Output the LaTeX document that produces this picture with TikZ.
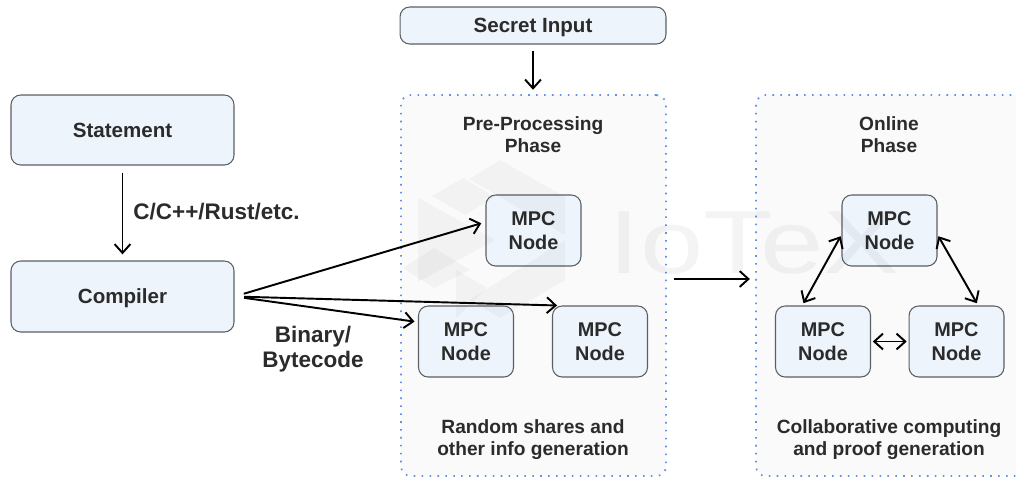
\documentclass[tikz,border=0pt]{standalone}
\usepackage{fontspec}
\setmainfont{Liberation Sans}
\usetikzlibrary{arrows.meta}
\definecolor{boxfill}{HTML}{EEF4FB}
\definecolor{boxline}{HTML}{5A5F63}
\definecolor{txt}{HTML}{2B2B2B}
\definecolor{phasefill}{HTML}{FAFAFA}
\definecolor{phaseline}{HTML}{5F92EA}
\tikzset{
	box/.style={draw=boxline,fill=boxfill,rounded corners=5.5pt,line width=0.6pt,inner sep=0pt,
		text=txt,font=\fontsize{11.7}{13}\selectfont\bfseries,align=center,text depth=0pt},
	mpc/.style={box,minimum width=1.9cm,minimum height=1.42cm,font=\fontsize{11.3}{13.6}\selectfont\bfseries},
	phase/.style={draw=phaseline,fill=phasefill,rounded corners=5.5pt,line width=1pt,inner sep=0pt,
		dash pattern=on 0.9pt off 3.6pt},
	lbl/.style={text=txt,font=\fontsize{10.9}{12.5}\selectfont\bfseries,align=center,inner sep=0pt},
	biglbl/.style={lbl,font=\fontsize{12.8}{14}\selectfont\bfseries},
	link/.style={>={Straight Barb[length=5pt,width=9pt]},line width=1.1pt,black},
	faint/.style={fill=black,fill opacity=0.03,draw=none},
	fainttext/.style={text=black,text opacity=0.045,xscale=1.27,inner sep=0pt,font=\fontsize{51}{51}\selectfont}
}
\begin{document}
\begin{tikzpicture}[x=0.02cm,y=-0.02cm]
\useasboundingbox (0,0) rectangle (1016,478);
%phases
\path (533.5,285.5) node[phase,minimum width=5.3cm,minimum height=7.62cm] (pre) {};
\path (928,285.5) node[phase,minimum width=6.88cm,minimum height=7.62cm] (online) {};
\path (533,134.5) node[lbl] (pretitle) {Pre-Processing\\Phase};
\path (889,134.5) node[lbl] (onlinetitle) {Online\\Phase};
\path (533,439.5) node[lbl] (pretext) {Random shares and\\other info generation};
\path (889,439.5) node[lbl] (onlinetext) {Collaborative computing\\and proof generation};
%left column
\path (122.5,130) node[box,minimum width=4.46cm,minimum height=1.4cm] (statement) {Statement};
\path (122.5,296.5) node[box,minimum width=4.46cm,minimum height=1.42cm] (compiler) {Compiler};
\path (216.5,212) node[biglbl] (lang) {C/C++/Rust/etc.};
\path (313,349) node[biglbl] (binary) {Binary/\\Bytecode};
%secret input
\path (533,25.5) node[box,minimum width=5.32cm,minimum height=0.74cm] (secret) {Secret Input};
%mpc nodes, pre-processing
\path (533.5,230.5) node[mpc] (m1) {MPC\\Node};
\path (466,341.5) node[mpc] (m2) {MPC\\Node};
\path (600,341.5) node[mpc] (m3) {MPC\\Node};
%mpc nodes, online
\path (889.5,230.5) node[mpc] (n1) {MPC\\Node};
\path (823,341.5) node[mpc] (n2) {MPC\\Node};
\path (956.5,341.5) node[mpc] (n3) {MPC\\Node};
%arrows
\draw[link,->,shorten <=4pt,shorten >=3.5pt] (statement) -- (compiler);
\draw[link,->,shorten <=3.5pt,shorten >=2.5pt] (secret) -- (secret |- pre.north);
\draw[link,->,shorten <=5.5pt,shorten >=2.5pt] (compiler.east) -- (m1.170);
\draw[link,->,shorten <=5.5pt,shorten >=2pt] (compiler.east) -- (m2.158);
\draw[link,->,shorten <=5.5pt] (compiler.east) -- (m3.140);
\draw[link,->,shorten <=4pt,shorten >=3pt] ([yshift=6.5*0.02cm]pre.east) -- ([yshift=6.5*0.02cm]online.west);
\draw[link,<->,shorten <=1pt,shorten >=1.5pt] (n1.185) -- (n2.120);
\draw[link,<->,shorten <=1pt,shorten >=1.5pt] (n1.-5) -- (n3.59);
\draw[link,<->,shorten <=1pt,shorten >=1pt] (n2) -- (n3);
%watermark
\fill[faint] (500,160) -- (565,197) -- (565,235) -- (500,197) -- (469,179) -- cycle;
\fill[faint] (463,178) -- (432,196) -- (465,215) -- (495,197) -- cycle;
\fill[faint] (418,198) -- (495,240) -- (418,282) -- cycle;
\fill[faint] (565,240) -- (565,280) -- (500,318) -- (469,300) -- (530,262) -- cycle;
\fill[faint] (403,268) -- (434,248) -- (470,270) -- (434,288) -- cycle;
\fill[faint] (456,270) -- (487,288) -- (456,318) -- cycle;
\path (754,243) node[fainttext] (brand) {IoTeX};
\end{tikzpicture}
\end{document}
